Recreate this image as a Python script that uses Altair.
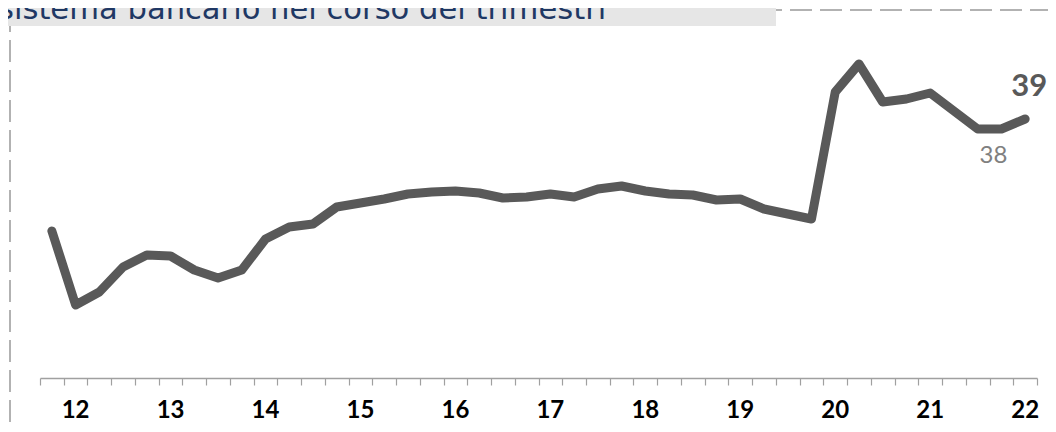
import altair as alt
import pandas as pd

# quarterly series, Q4 2011 .. Q1 2022
periods = ["2011-T4"] + [f"{y}-T{q}" for y in range(2012, 2022) for q in range(1, 5)] + ["2022-T1"]
values = [27.7, 20.3, 21.6, 24.1, 25.3, 25.2, 23.8, 23.0, 23.8, 26.9,
          28.1, 28.4, 30.1, 30.5, 30.9, 31.4, 31.6, 31.7, 31.5, 31.0,
          31.1, 31.4, 31.1, 31.9, 32.2, 31.7, 31.4, 31.3, 30.8, 30.9,
          29.9, 29.4, 28.9, 41.6, 44.4, 40.6, 40.9, 41.5, 39.7, 37.9,
          37.9, 38.9]
year_labels = ["12", "13", "14", "15", "16", "17", "18", "19", "20", "21", "22"]
year_label_period = ["2012-T1", "2013-T1", "2014-T1", "2015-T1", "2016-T1", "2017-T1",
                     "2018-T1", "2019-T1", "2020-T1", "2021-T1", "2022-T1"]
title_text = "sistema bancario nel corso dei trimestri"

df = pd.DataFrame({"period": periods, "value": values})
df["pos"] = [i + 0.5 for i in range(len(periods))]
pos_of = dict(zip(df["period"], df["pos"]))
ydf = pd.DataFrame({"label": year_labels, "pos": [pos_of[p] for p in year_label_period]})
one = pd.DataFrame({"a": [0]})

W, H = 997, 370
xscale = alt.Scale(domain=[0, len(periods)], nice=False, zero=False)
yscale = alt.Scale(domain=[13, 50], nice=False, zero=False)
FONT = "Lato"

border_top = alt.Chart(one).mark_rule(color="#999999", strokeWidth=1.5, strokeDash=[22, 8]).encode(
    x=alt.value(-30), x2=alt.value(1010), y=alt.value(2))
border_left = alt.Chart(one).mark_rule(color="#999999", strokeWidth=1.5, strokeDash=[22, 8]).encode(
    x=alt.value(-30), y=alt.value(2), y2=alt.value(420))
box = alt.Chart(one).mark_rect(color="#e6e6e6").encode(
    x=alt.value(-40), x2=alt.value(736), y=alt.value(-8), y2=alt.value(18))
title = alt.Chart(one).mark_text(align="left", baseline="alphabetic", fontSize=30.6,
                                 font="DejaVu Sans", color="#1f3864").encode(
    x=alt.value(-42), y=alt.value(11), text=alt.value(title_text))

line = alt.Chart(df).mark_line(color="#595959", strokeWidth=9, strokeCap="round",
                               strokeJoin="round").encode(
    x=alt.X("pos:Q", scale=xscale,
            axis=alt.Axis(values=list(range(len(periods) + 1)), tickCount=100,
                          labels=False, ticks=True,
                          tickSize=7, tickColor="#a0a0a0", domainColor="#a0a0a0",
                          domainWidth=1.5, tickWidth=1.2, grid=False, title=None)),
    y=alt.Y("value:Q", scale=yscale, axis=None),
)

lbl38 = alt.Chart(df.iloc[[40]]).mark_text(fontSize=24, font=FONT, color="#808080",
                                           dx=-8, dy=27, baseline="middle").encode(
    x=alt.X("pos:Q", scale=xscale), y=alt.Y("value:Q", scale=yscale),
    text=alt.Text("value:Q", format=".0f"))
lbl39 = alt.Chart(df.iloc[[41]]).mark_text(fontSize=31, font=FONT, fontWeight="bold",
                                           color="#595959", dx=4, dy=-32,
                                           baseline="middle").encode(
    x=alt.X("pos:Q", scale=xscale), y=alt.Y("value:Q", scale=yscale),
    text=alt.Text("value:Q", format=".0f"))

years = alt.Chart(ydf).mark_text(fontSize=24, font=FONT, fontWeight="bold", color="#000000",
                                 baseline="middle").encode(
    x=alt.X("pos:Q", scale=xscale), y=alt.value(403), text="label:N")

chart = alt.layer(border_top, border_left, box, title, line, lbl38, lbl39, years).properties(
    width=W, height=H,
    autosize=alt.AutoSizeParams(type="none"),
    padding={"left": 32, "top": 0, "right": 11, "bottom": 46},
).configure_view(stroke=None)

chart.save("out.html", embed_options={"renderer": "svg", "actions": False})
